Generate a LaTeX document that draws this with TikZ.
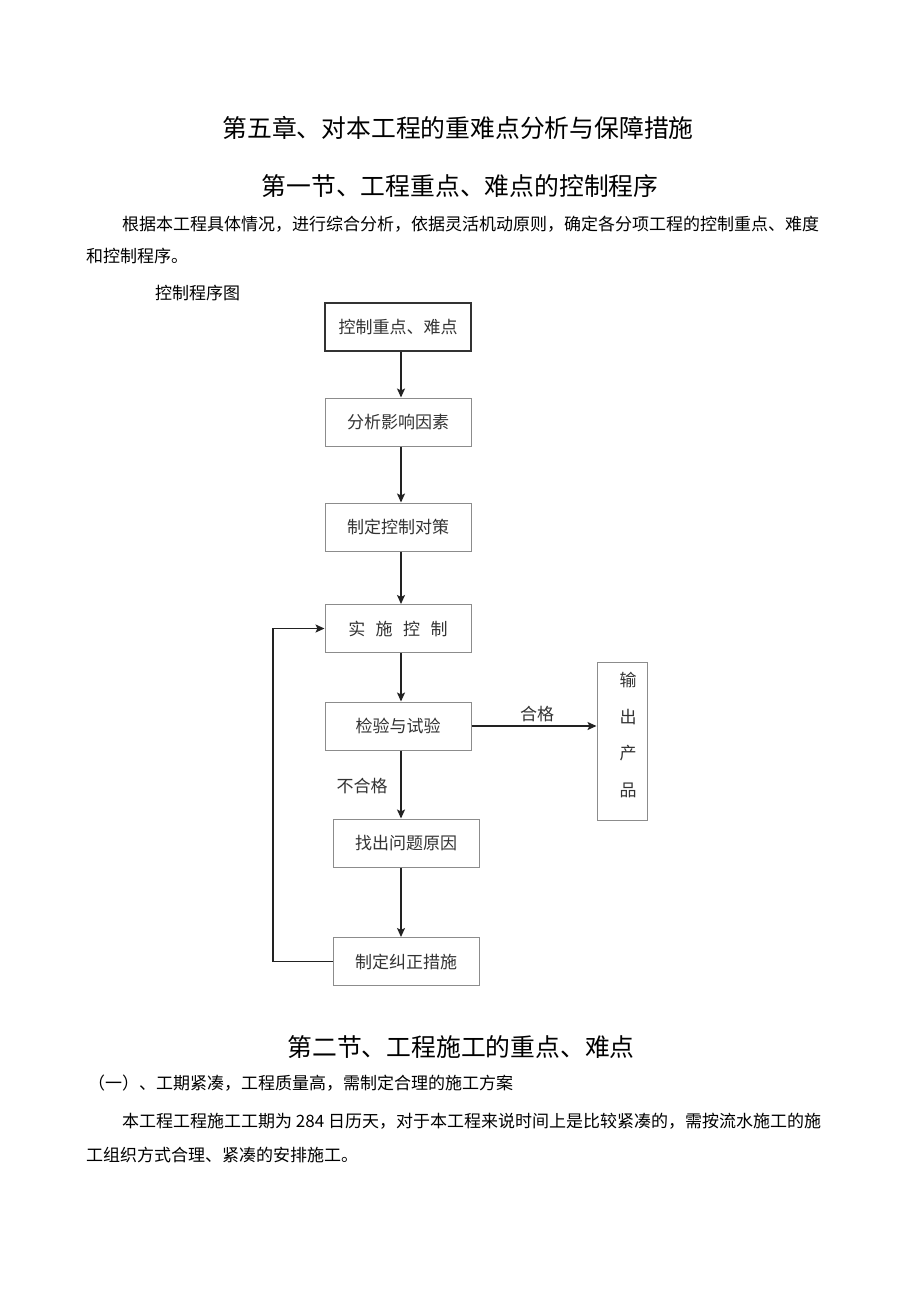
\documentclass[tikz,border=0pt]{standalone}
\usepackage{fontspec}
\setmainfont{Noto Sans CJK SC}
\usetikzlibrary{arrows.meta,calc}
\definecolor{boxgray}{HTML}{8C8C8C}
\definecolor{boxdark}{HTML}{333333}
\definecolor{textgray}{HTML}{333333}
\definecolor{arrowdark}{HTML}{222222}
\begin{document}
\begin{tikzpicture}[x=1pt,y=-1pt,
  title/.style={font=\fontsize{24.8}{25}\selectfont, text=black, inner sep=0},
  body/.style={font=\fontsize{17}{17}\selectfont, text=black, inner sep=0, anchor=west},
  flowbox/.style={draw=boxgray, line width=1pt, inner sep=0, text=textgray,
    font=\fontsize{17}{17}\selectfont, minimum width=146pt, minimum height=48pt},
  topbox/.style={flowbox, draw=boxdark, line width=1.6pt},
  lbl/.style={font=\fontsize{17}{17}\selectfont, text=textgray, inner sep=0},
  flow/.style={draw=arrowdark, line width=1.4pt, -{Stealth[length=9pt,width=8pt,inset=2pt]}}
]
\useasboundingbox[fill=white] (0,0) rectangle (920,1301);

% headings and text
\node[title] (t1) at (458,128) {第五章、对本工程的重难点分析与保障措施};
\node[title] (t2) at (460,186) {第一节、工程重点、难点的控制程序};
\node[body] (p1) at (122,224) {根据本工程具体情况，进行综合分析，依据灵活机动原则，确定各分项工程的控制重点、难度};
\node[body] (p2) at (86,256) {和控制程序。};
\node[body] (cap) at (155,293) {控制程序图};

% flow chart
\node[topbox] (b1) at (398,327) {控制重点、难点};
\node[flowbox] (b2) at (398,422) {分析影响因素};
\node[flowbox] (b3) at (398,527) {制定控制对策};
\node[flowbox] (b4) at (398,628.5) {实\hspace{10.5pt}施\hspace{10.5pt}控\hspace{10.5pt}制};
\node[flowbox] (b5) at (398,726) {检验与试验};
\node[flowbox] (b6) at (406,843) {找出问题原因};
\node[flowbox] (b7) at (406,961.5) {制定纠正措施};
\node[draw=boxgray, line width=1pt, minimum width=50pt, minimum height=158pt, inner sep=0] (out) at (622,741) {};
\node[lbl, align=center, font=\fontsize{17}{36.7}\selectfont] (outtxt) at (628,735) {输\\出\\产\\品};

\coordinate (loopc) at (273,961.5);
\coordinate (axis) at (401,0);

\draw[flow] (b1.south -| axis) -- (b2.north -| axis);
\draw[flow] (b2.south -| axis) -- (b3.north -| axis);
\draw[flow] (b3.south -| axis) -- (b4.north -| axis);
\draw[flow] (b4.south -| axis) -- (b5.north -| axis);
\draw[flow] (b5.south -| axis) -- (b6.north -| axis);
\draw[flow] (b6.south -| axis) -- (b7.north -| axis);
\draw[flow] (b5.east) -- (out.west |- b5.east);
\draw[flow] (b7.west) -- (loopc) |- (b4.west);

\node[lbl] (ok) at (537,714) {合格};
\node[lbl] (nok) at (362,786) {不合格};

% section two
\node[title] (t3) at (461,1047) {第二节、工程施工的重点、难点};
\node[body] (p3) at (88,1083) {（一）、工期紧凑，工程质量高，需制定合理的施工方案};
\node[body] (p4) at (122,1121) {本工程工程施工工期为 284 日历天，对于本工程来说时间上是比较紧凑的，需按流水施工的施};
\node[body] (p5) at (86,1155) {工组织方式合理、紧凑的安排施工。};
\end{tikzpicture}
\end{document}
